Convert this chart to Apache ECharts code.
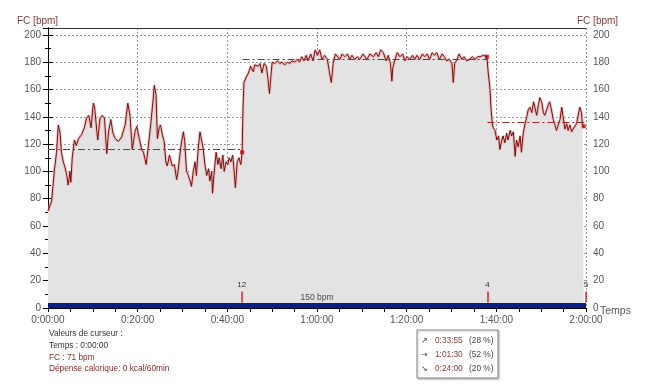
<!DOCTYPE html>
<html><head><meta charset="utf-8">
<script src="https://cdn.jsdelivr.net/npm/echarts@6/dist/echarts.min.js"></script>
<style>html,body{margin:0;padding:0;background:#fff}#c{width:645px;height:387px}</style>
</head><body><div id="c"></div>
<script>
// time in minutes
const timeMin = [0,0.8,1.4,1.9,2.3,2.7,3.0,3.4,3.8,4.2,4.5,4.9,5.1,5.4,5.9,6.3,6.8,7.5,8.1,8.6,9.1,9.6,10.1,10.4,10.9,11.1,11.6,12.1,12.6,13.1,13.5,14.0,14.5,15.0,15.7,16.4,17.2,17.8,18.3,18.8,19.4,19.8,20.3,20.9,21.3,21.9,22.4,22.9,23.4,23.7,24.1,24.4,24.8,25.1,25.5,25.9,26.3,26.6,27.1,27.4,27.7,28.2,28.7,29.0,29.4,29.8,30.2,30.5,30.9,31.3,31.7,32.0,32.4,32.8,33.1,33.5,33.9,34.3,34.6,35.0,35.4,35.8,36.1,36.5,36.7,37.0,37.5,37.9,38.2,38.6,39.0,39.3,39.7,40.1,40.4,40.8,41.2,41.6,41.8,42.2,42.6,43.0,43.3,
43.5,43.7,44.2,44.7,45.2,45.8,46.1,46.5,46.9,47.3,47.7,48.2,48.7,49.1,49.4,49.7,50.0,50.6,51.2,51.7,52.2,52.8,53.4,53.9,54.4,55.0,55.6,56.1,56.6,57.1,57.6,58.0,58.6,59.1,59.6,60.1,60.6,61.1,61.7,62.3,62.8,63.2,63.6,64.1,64.5,65.1,65.6,66.2,66.8,67.3,67.8,68.4,69.0,69.5,70.3,71.1,71.8,72.6,73.2,73.7,74.2,74.8,75.4,75.9,76.4,76.7,76.9,77.4,77.9,78.5,79.1,79.6,80.1,80.7,81.3,81.8,82.3,82.9,83.5,84.0,84.6,85.1,85.7,86.2,86.7,87.3,87.9,88.4,88.9,89.5,90.1,90.4,90.7,91.1,91.7,92.3,92.8,93.4,94.0,94.6,95.3,95.8,96.4,97.1,97.9,
98.2,98.6,98.8,99.1,99.3,99.7,100.1,100.5,100.8,101.2,101.5,101.9,102.3,102.6,103.1,103.4,103.8,104.2,104.5,104.9,105.3,105.6,106.0,106.4,106.8,107.1,107.5,107.9,108.3,108.6,109.0,109.4,109.7,110.1,110.5,110.8,111.2,111.6,111.9,112.3,112.7,113.0,113.4,113.8,114.2,114.6,114.9,115.3,115.7,116.0,116.4,116.8,117.1,117.5,117.9,118.2,118.6,119.0,119.2,119.5];
// heart rate in bpm
const heartRate = [71,78,100,114,134,128,114,107,103,97,90,100,92,110,123,119,124,127,132,139,141,132,150,147,129,123,139,141,139,113,129,138,128,124,122,125,134,150,141,116,129,133,125,116,114,105,119,134,151,163,156,124,132,134,127,122,107,104,112,113,104,105,94,100,112,122,129,122,100,97,93,89,100,107,97,117,129,128,117,105,97,102,93,100,84,97,114,105,110,102,112,100,107,105,110,107,112,97,88,107,110,105,114,
147,165,169,172,177,173,178,179,177,179,172,179,177,167,157,169,180,179,181,179,180,178,180,179,181,180,182,180,184,181,185,181,186,181,189,185,189,182,185,182,172,165,179,186,187,182,186,184,186,182,185,182,184,182,186,182,186,184,187,184,189,187,181,185,179,166,176,182,187,184,186,181,184,182,185,182,185,182,186,184,186,182,187,185,187,182,186,184,181,182,179,165,179,181,186,182,184,181,182,184,182,184,184,185,184,
172,160,147,135,132,130,123,126,116,123,126,121,128,123,130,126,129,111,123,118,126,114,128,135,140,145,147,143,151,147,141,149,154,151,143,141,145,149,151,145,138,135,130,129,138,147,140,131,135,130,134,129,131,131,135,140,147,143,134,133];

const lapTimes = [43.2, 98, 120];
const lapLabels = ['12', '4', '5'];
const lapMarkTimes = [43.3, 97.9, 119.5];
const lapMarkHR = [114, 184, 133];
const avgStart = [0, 43.4, 98];
const avgEnd = [43.4, 98, 119.6];
const avgHR = [116, 182, 136];
const bandTop = 3.6;
const bandLabel = '150 bpm';
const zoneArrows = ['\u2197', '\u2192', '\u2198'];
const zoneTimes = ['0:33:55', '1:01:30', '0:24:00'];
const zonePct = ['(28 %)', '(52 %)', '(20 %)'];
const cursorLines = ['Valeurs de curseur :', 'Temps : 0:00:00', 'FC : 71 bpm', 'Dépense calorique: 0 kcal/60min'];
const yName = 'FC [bpm]';
const xName = 'Temps';

const FONT = '"Liberation Sans", Arial, sans-serif';
const hrData = timeMin.map((t, i) => [t, heartRate[i]]);
function fmtTime(v) {
  const h = Math.floor(v / 60), m = Math.round(v % 60);
  return h + ':' + String(m).padStart(2, '0') + ':00';
}
const avgLines = avgHR.map((v, i) => [{coord: [avgStart[i], v]}, {coord: [avgEnd[i], v]}]);
const lapLines = lapTimes.map((t, i) => [
  {coord: [t, 4], label: {show: true, position: 'end', formatter: lapLabels[i], color: '#333', fontSize: 8, fontFamily: FONT, distance: 3}},
  {coord: [t, 12]}
]);

const chart = echarts.init(document.getElementById('c'), null, {renderer: 'canvas'});
const yAxisBase = {
  type: 'value', min: 0, max: 205, interval: 20,
  axisLine: {show: true, lineStyle: {color: '#000', width: 1}},
  axisTick: {show: true, length: 5, lineStyle: {color: '#000'}},
  minorTick: {show: true, splitNumber: 2, length: 3, lineStyle: {color: '#000'}},
  axisLabel: {color: '#555', fontSize: 10, fontFamily: FONT, margin: 7,
    formatter: v => (v % 20 === 0 ? String(v) : '')},
};
chart.setOption({
  animation: false,
  backgroundColor: '#fff',
  grid: {left: 48, right: 59, top: 28, bottom: 79},
  xAxis: [{
    type: 'value', min: 0, max: 120, interval: 20, position: 'bottom',
    axisLine: {show: true, onZero: false, lineStyle: {color: '#000', width: 1}},
    axisTick: {show: true, length: 4, lineStyle: {color: '#000'}},
    minorTick: {show: true, splitNumber: 4, length: 4, lineStyle: {color: '#000'}},
    axisLabel: {color: '#555', fontSize: 10, fontFamily: FONT, margin: 7, formatter: fmtTime},
    splitLine: {show: true, lineStyle: {color: '#999', type: [2, 2], width: 1}}
  }, {
    type: 'value', min: 0, max: 120, position: 'top',
    axisLine: {show: true, onZero: false, lineStyle: {color: '#333', width: 1}},
    axisTick: {show: false}, axisLabel: {show: false}, splitLine: {show: false}
  }],
  yAxis: [Object.assign({}, yAxisBase, {
    position: 'left',
    splitLine: {show: true, lineStyle: {color: '#999', type: [2, 2], width: 1}}
  }), Object.assign({}, yAxisBase, {
    position: 'right', splitLine: {show: false}
  })],
  series: [{
    type: 'line', data: hrData, symbol: 'none', z: 2,
    lineStyle: {width: 3, color: 'rgba(232,160,160,0.55)'},
    areaStyle: {color: '#e3e3e3', opacity: 1}
  }, {
    type: 'line', data: hrData, symbol: 'none', z: 3,
    lineStyle: {width: 1, color: '#7a0c0c'},
    markLine: {
      silent: true, symbol: ['none', 'none'], animation: false,
      label: {show: false},
      lineStyle: {color: '#a02828', width: 1, type: [7, 3, 2, 3]},
      data: avgLines
    }
  }, {
    type: 'line', data: [[0, bandTop], [120, bandTop]], symbol: 'none', z: 4,
    lineStyle: {width: 0}, areaStyle: {color: '#0b1d86', opacity: 1},
    markLine: {
      silent: true, symbol: ['none', 'none'], animation: false,
      lineStyle: {color: '#e02020', width: 1.5, type: 'solid'},
      data: lapLines
    }
  }, {
    type: 'scatter', z: 5, symbol: 'rect', symbolSize: 4,
    itemStyle: {color: '#c00000'},
    data: lapMarkTimes.map((t, i) => [t, lapMarkHR[i]])
  }, {
    type: 'scatter', z: 5, symbolSize: 0,
    data: [[60, 7.8]],
    label: {show: true, position: 'inside', formatter: bandLabel, color: '#222', fontSize: 8.5, fontFamily: FONT}
  }],
  graphic: [
    {type: 'text', style: {text: yName, x: 17, y: 21, fill: '#7b3b3b', font: '10px ' + FONT, verticalAlign: 'middle'}},
    {type: 'text', style: {text: yName, x: 577, y: 21, fill: '#7b3b3b', font: '10px ' + FONT, verticalAlign: 'middle'}},
    {type: 'text', style: {text: xName, x: 600, y: 311, fill: '#555', font: '10.5px ' + FONT, verticalAlign: 'middle'}},
    ...cursorLines.map((s, i) => ({type: 'text', style: {text: s, x: 49, y: [334, 346, 357.5, 368.5][i],
      fill: i < 2 ? '#333' : '#8b2a2a', font: '8.3px ' + FONT, verticalAlign: 'middle'}})),
    {type: 'rect', shape: {x: 417, y: 330, width: 81, height: 48},
      style: {fill: '#fff', stroke: '#888', lineWidth: 1, shadowColor: 'rgba(0,0,0,0.25)', shadowBlur: 2, shadowOffsetX: 1, shadowOffsetY: 1}},
    ...zoneArrows.map((s, i) => ({type: 'text', style: {text: s, x: 421, y: [341, 355, 369][i], fill: '#333', font: '8px "DejaVu Sans", sans-serif', verticalAlign: 'middle'}})),
    ...zoneTimes.map((s, i) => ({type: 'text', style: {text: s, x: 435, y: [341, 355, 369][i], fill: '#8b3a3a', font: '8.3px ' + FONT, verticalAlign: 'middle'}})),
    ...zonePct.map((s, i) => ({type: 'text', style: {text: s, x: 469, y: [341, 355, 369][i], fill: '#444', font: '8.3px ' + FONT, verticalAlign: 'middle'}}))
  ]
});
</script>
</body></html>
